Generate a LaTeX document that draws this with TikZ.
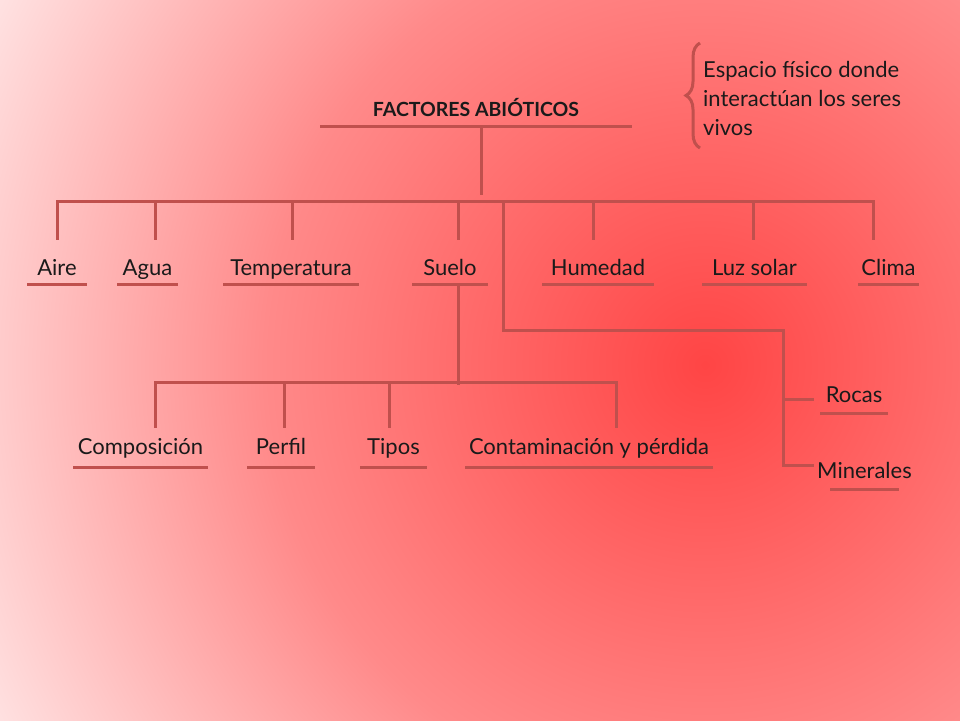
\documentclass[tikz,border=0pt]{standalone}
\usepackage{fontspec}
\setmainfont{Lato}
\usetikzlibrary{decorations.pathreplacing}

\definecolor{linkred}{HTML}{C0504D}
\definecolor{inkdark}{HTML}{1A1A1A}
\pgfdeclareradialshading{bgglow}{\pgfpoint{0bp}{0bp}}{%
  rgb(0bp)=(1,0.27,0.27); rgb(11bp)=(1,0.54,0.54);
  rgb(20bp)=(1,0.89,0.89); rgb(25bp)=(1,0.97,0.97); rgb(50bp)=(1,0.97,0.97)}

\begin{document}
\begin{tikzpicture}[
  x=1pt, y=-1pt,
  % Tree lines and underlines
  link/.style={draw=linkred, line width=3pt, line cap=rect},
  uline/.style={draw=linkred, line width=3pt},
  % Labels (placed on their baseline)
  lbl/.style={anchor=base, inner sep=0pt, text=inkdark, font=\fontsize{22}{26}\selectfont},
  lvlone/.style={lbl, text height=36pt, text depth=9pt},
  lvltwo/.style={lbl, text height=27pt, text depth=13pt},
  lvlside/.style={lbl, text height=17pt, text depth=11pt},
  brc/.style={draw=linkred, line width=3pt, decorate, decoration={brace, amplitude=14pt}}
]

% === BACKGROUND ===
\useasboundingbox (0,0) rectangle (960,720);
\begin{scope}
  \clip (0,0) rectangle (960,720);
  \shade[shading=bgglow] (705,365) circle[radius=1000pt];
\end{scope}

% === TITLE ===
\node[lbl, font=\bfseries\fontsize{19.5}{22}\selectfont, text depth=10pt] (title) at (476,116) {FACTORES ABIÓTICOS};

% Note with brace
\node[lbl, anchor=base west, align=left, font=\fontsize{22}{29}\selectfont] (note) at (703,135) {Espacio físico donde\\interactúan los seres\\vivos};
\coordinate (brlow) at (700,148);
\coordinate (brtop) at (700,43);
\draw[brc] (brlow) -- (brtop);

% === FIRST LEVEL ===
\node[lvlone] (aire)  at (57,275)    {Aire};
\node[lvlone] (agua)  at (147.5,275) {Agua};
\node[lvlone] (temp)  at (291,275)   {Temperatura};
\node[lvlone] (suelo) at (450,275)   {Suelo};
\node[lvlone] (hum)   at (598,275)   {Humedad};
\node[lvlone] (luz)   at (754.5,275) {Luz solar};
\node[lvlone] (clima) at (888.5,275) {Clima};

% === SECOND LEVEL (Suelo) ===
\node[lvltwo] (comp)   at (140.5,454) {Composición};
\node[lvltwo] (perfil) at (281,454)   {Perfil};
\node[lvltwo] (tipos)  at (393.5,454) {Tipos};
\node[lvltwo] (cont)   at (589,454)   {Contaminación y pérdida};

% === SIDE BRANCH ===
\node[lvlside] (rocas) at (854,402)   {Rocas};
\node[lvlside] (min)   at (864.5,478) {Minerales};

% Underlines
\foreach \n/\w in {title/312, aire/60, agua/61, temp/136, suelo/76, hum/112, luz/105, clima/61,
                   comp/135, perfil/68, tipos/67, cont/248, rocas/68, min/69}
  \draw[uline] ([xshift=-0.5*\w]\n.south) -- ([xshift=0.5*\w]\n.south);

% === CONNECTORS ===
\draw[link] ([xshift=5pt]title.south) -- ++(0,67);
\draw[link] ([yshift=37pt]aire.north) -- ([xshift=-15.5pt,yshift=37pt]clima.north);
\foreach \n/\dx in {aire/0, agua/7.5, temp/1, suelo/8, hum/-5, luz/-1.5, clima/-15.5}
  \draw[link] ([xshift=\dx pt]\n.north) -- ++(0,-37);

\draw[link] ([xshift=8pt]suelo.south) -- ++(0,99);
\draw[link] ([xshift=14.5pt,yshift=44pt]comp.north) -- ([xshift=27pt,yshift=44pt]cont.north);
\foreach \n/\dx in {comp/14.5, perfil/3, tipos/-4.5, cont/27}
  \draw[link] ([xshift=\dx pt]\n.north) -- ++(0,-44);

\coordinate (fork) at (503,202);
\coordinate (elbow) at (783,330);
\draw[link] (fork) |- (elbow) |- ([xshift=-5pt,yshift=-5pt]min.north west);
\draw[link] (elbow |- rocas.west) -- ([xshift=-13pt]rocas.west);

\end{tikzpicture}
\end{document}
